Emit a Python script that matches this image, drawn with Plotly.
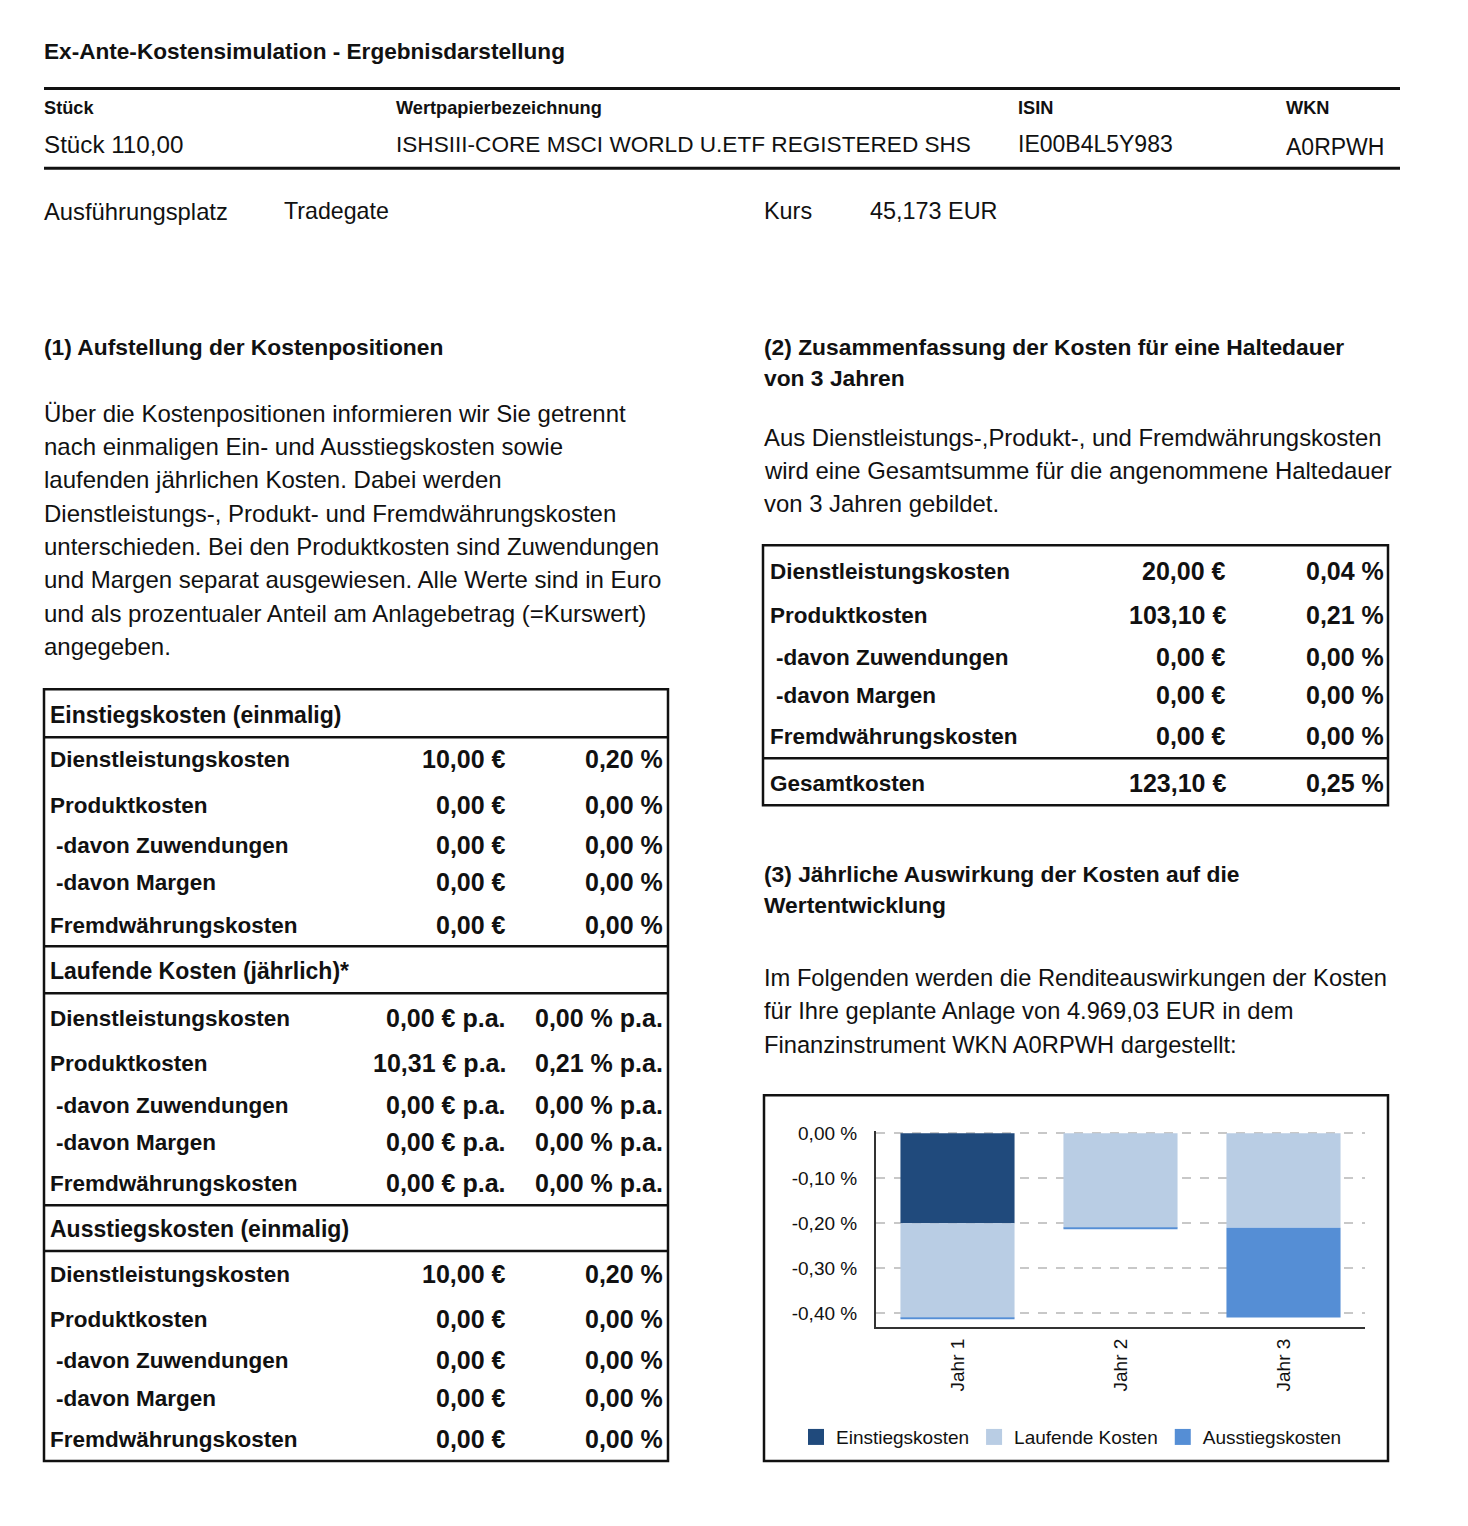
import plotly.graph_objects as go

# ---------------- data ----------------
years = ["Jahr 1", "Jahr 2", "Jahr 3"]
einstieg = [-0.20, 0.0, 0.0]
laufend = [-0.21, -0.21, -0.21]
ausstieg = [-0.002, -0.002, -0.20]
ytick_vals = [0.0, -0.1, -0.2, -0.3, -0.4]
ytick_text = ["0,00 %", "-0,10 %", "-0,20 %", "-0,30 %", "-0,40 %"]
series_names = ["Einstiegskosten", "Laufende Kosten", "Ausstiegskosten"]
series_colors = ["#204a7c", "#b9cde4", "#558ed5"]

row_labels = ["Dienstleistungskosten", "Produktkosten", "-davon Zuwendungen",
              "-davon Margen", "Fremdwährungskosten"]
entry_eur = ["10,00 €", "0,00 €", "0,00 €", "0,00 €", "0,00 €"]
entry_pct = ["0,20 %", "0,00 %", "0,00 %", "0,00 %", "0,00 %"]
run_eur = ["0,00 € p.a.", "10,31 € p.a.", "0,00 € p.a.", "0,00 € p.a.", "0,00 € p.a."]
run_pct = ["0,00 % p.a.", "0,21 % p.a.", "0,00 % p.a.", "0,00 % p.a.", "0,00 % p.a."]
exit_eur = ["10,00 €", "0,00 €", "0,00 €", "0,00 €", "0,00 €"]
exit_pct = ["0,20 %", "0,00 %", "0,00 %", "0,00 %", "0,00 %"]
section_titles = ["Einstiegskosten (einmalig)", "Laufende Kosten (jährlich)*",
                  "Ausstiegskosten (einmalig)"]

sum_labels = ["Dienstleistungskosten", "Produktkosten", "-davon Zuwendungen",
              "-davon Margen", "Fremdwährungskosten", "Gesamtkosten"]
sum_eur = ["20,00 €", "103,10 €", "0,00 €", "0,00 €", "0,00 €", "123,10 €"]
sum_pct = ["0,04 %", "0,21 %", "0,00 %", "0,00 %", "0,00 %", "0,25 %"]

para1 = ["Über die Kostenpositionen informieren wir Sie getrennt",
         "nach einmaligen Ein- und Ausstiegskosten sowie",
         "laufenden jährlichen Kosten. Dabei werden",
         "Dienstleistungs-, Produkt- und Fremdwährungskosten",
         "unterschieden. Bei den Produktkosten sind Zuwendungen",
         "und Margen separat ausgewiesen. Alle Werte sind in Euro",
         "und als prozentualer Anteil am Anlagebetrag (=Kurswert)",
         "angegeben."]
para2 = ["Aus Dienstleistungs-,Produkt-, und Fremdwährungskosten",
         "wird eine Gesamtsumme für die angenommene Haltedauer",
         "von 3 Jahren gebildet."]
para3 = ["Im Folgenden werden die Renditeauswirkungen der Kosten",
         "für Ihre geplante Anlage von 4.969,03 EUR in dem",
         "Finanzinstrument WKN A0RPWH dargestellt:"]

# ---------------- page geometry ----------------
W, H = 1468, 1526
OFFX = 8
FW = W - 2 * OFFX
FH = 1502
TOP, SCALE = 15.6, 0.9949   # measured placement of the figure in the photographed page


def px(x):
    return (x - OFFX) / FW


def py(y):
    return 1 - ((y - TOP) / SCALE) / FH


FONT = "Liberation Sans, Arial, Helvetica, sans-serif"
INK = "#111111"

fig = go.Figure()
for name, vals, col in zip(series_names, [einstieg, laufend, ausstieg], series_colors):
    fig.add_trace(go.Bar(x=years, y=vals, name=name, showlegend=False,
                         marker=dict(color=col, line=dict(width=0))))
# legend entries (square swatches)
for name, col in zip(series_names, series_colors):
    fig.add_trace(go.Scatter(x=[None], y=[None], mode="markers", name=name,
                             marker=dict(symbol="square", size=16, color=col)))

annotations = []
shapes = []


def text(x, y, s, size=24, bold=False, anchor="left"):
    xx = x - 2 if anchor == "left" else x + 3
    annotations.append(dict(
        x=px(xx), y=py(y), xref="paper", yref="paper", showarrow=False,
        text=("<b>%s</b>" % s) if bold else s, xanchor=anchor, yanchor="middle",
        font=dict(family=FONT, size=size, color=INK)))


def hline(x0, x1, y, w=2.5):
    shapes.append(dict(type="line", xref="paper", yref="paper", x0=px(x0), x1=px(x1),
                       y0=py(y), y1=py(y), line=dict(color=INK, width=w)))


def rect(x0, y0, x1, y1, w=2.5):
    shapes.append(dict(type="rect", xref="paper", yref="paper", x0=px(x0), x1=px(x1),
                       y0=py(y0), y1=py(y1), line=dict(color=INK, width=w)))


LBL = 22.5   # bold table labels
VAL = 25     # bold table values
PAR = 24     # paragraph text
HEAD = 22.8  # bold headings

# header
text(44, 51, "Ex-Ante-Kostensimulation - Ergebnisdarstellung", 22.6, True)
hline(44, 1400, 88, 3)
hline(44, 1400, 168, 3)
for x, lab in [(44, "Stück"), (396, "Wertpapierbezeichnung"), (1018, "ISIN"), (1286, "WKN")]:
    text(x, 108, lab, 18.2, True)
text(44, 144, "Stück 110,00", 24.2)
text(396, 144, "ISHSIII-CORE MSCI WORLD U.ETF REGISTERED SHS", 22.6)
text(1018, 144, "IE00B4L5Y983", 23)
text(1286, 147, "A0RPWH", 23)
text(44, 211, "Ausführungsplatz", 23.8)
text(284, 211, "Tradegate", 23.2)
text(764, 211, "Kurs", 23.4)
text(870, 211, "45,173 EUR", 23.4)

# section (1)
text(44, 347, "(1) Aufstellung der Kostenpositionen", HEAD, True)
for i, line in enumerate(para1):
    text(44, 413 + i * 33.3, line, PAR)

rect(44, 689, 668, 1461)
for y in [737, 946, 993, 1205, 1251]:
    hline(44, 668, y)
sec_y = [715, 971, 1229]
row_y = [[759, 805, 845, 882, 925], [1018, 1063, 1105, 1142, 1183],
         [1274, 1319, 1360, 1398, 1439]]
eur_cols = [entry_eur, run_eur, exit_eur]
pct_cols = [entry_pct, run_pct, exit_pct]
for k in range(3):
    text(50, sec_y[k], section_titles[k], 23, True)
    for j in range(5):
        xl = 56 if row_labels[j].startswith("-") else 50
        text(xl, row_y[k][j], row_labels[j], LBL, True)
        text(505, row_y[k][j], eur_cols[k][j], VAL, True, "right")
        text(662, row_y[k][j], pct_cols[k][j], VAL, True, "right")

# section (2)
text(764, 347, "(2) Zusammenfassung der Kosten für eine Haltedauer", HEAD, True)
text(764, 378, "von 3 Jahren", HEAD, True)
for i, line in enumerate(para2):
    text(764, 437 + i * 33.3, line, 23.9)
rect(763, 545, 1388, 805)
hline(763, 1388, 758)
sum_y = [571, 615, 657, 695, 736, 783]
for j in range(6):
    xl = 776 if sum_labels[j].startswith("-") else 770
    text(xl, sum_y[j], sum_labels[j], LBL, True)
    text(1225, sum_y[j], sum_eur[j], VAL, True, "right")
    text(1383, sum_y[j], sum_pct[j], VAL, True, "right")

# section (3)
text(764, 874, "(3) Jährliche Auswirkung der Kosten auf die", HEAD, True)
text(764, 905, "Wertentwicklung", HEAD, True)
for i, line in enumerate(para3):
    text(764, 978 + i * 33.3, line, 23.7)
rect(764, 1095, 1388, 1461)

# chart axes
y_top, y_bot = 1131, 1327
per_px = 0.1 / 45.0
r_top = (1133 - y_top) * per_px
r_bot = -(y_bot - 1133) * per_px

fig.update_layout(
    width=FW, height=FH, margin=dict(l=0, r=0, t=0, b=0),
    paper_bgcolor="white", plot_bgcolor="white",
    barmode="relative", bargap=0.3,
    font=dict(family=FONT, color=INK),
    xaxis=dict(domain=[px(876), px(1365)], anchor="y", showline=True, linecolor="#333333",
               linewidth=2, tickangle=-90, tickfont=dict(size=19, family=FONT, color=INK),
               ticks="", showgrid=False, ticklabelstandoff=2),
    yaxis=dict(domain=[py(y_bot), py(y_top)], range=[r_bot, r_top], showline=True,
               linecolor="#333333", linewidth=2, tickvals=ytick_vals, ticktext=ytick_text,
               tickfont=dict(size=19, family=FONT, color=INK), showgrid=True,
               gridcolor="#c8c8c8", griddash="dash", gridwidth=1.5, zeroline=False,
               ticks="", ticklabelstandoff=13),
    legend=dict(orientation="h", x=px(796), y=py(1437), xanchor="left", yanchor="middle",
                font=dict(size=19, family=FONT, color=INK), traceorder="normal",
                bgcolor="rgba(0,0,0,0)", itemwidth=30),
    annotations=annotations, shapes=shapes,
)

fig.write_html("out.html", config={"displayModeBar": False})
